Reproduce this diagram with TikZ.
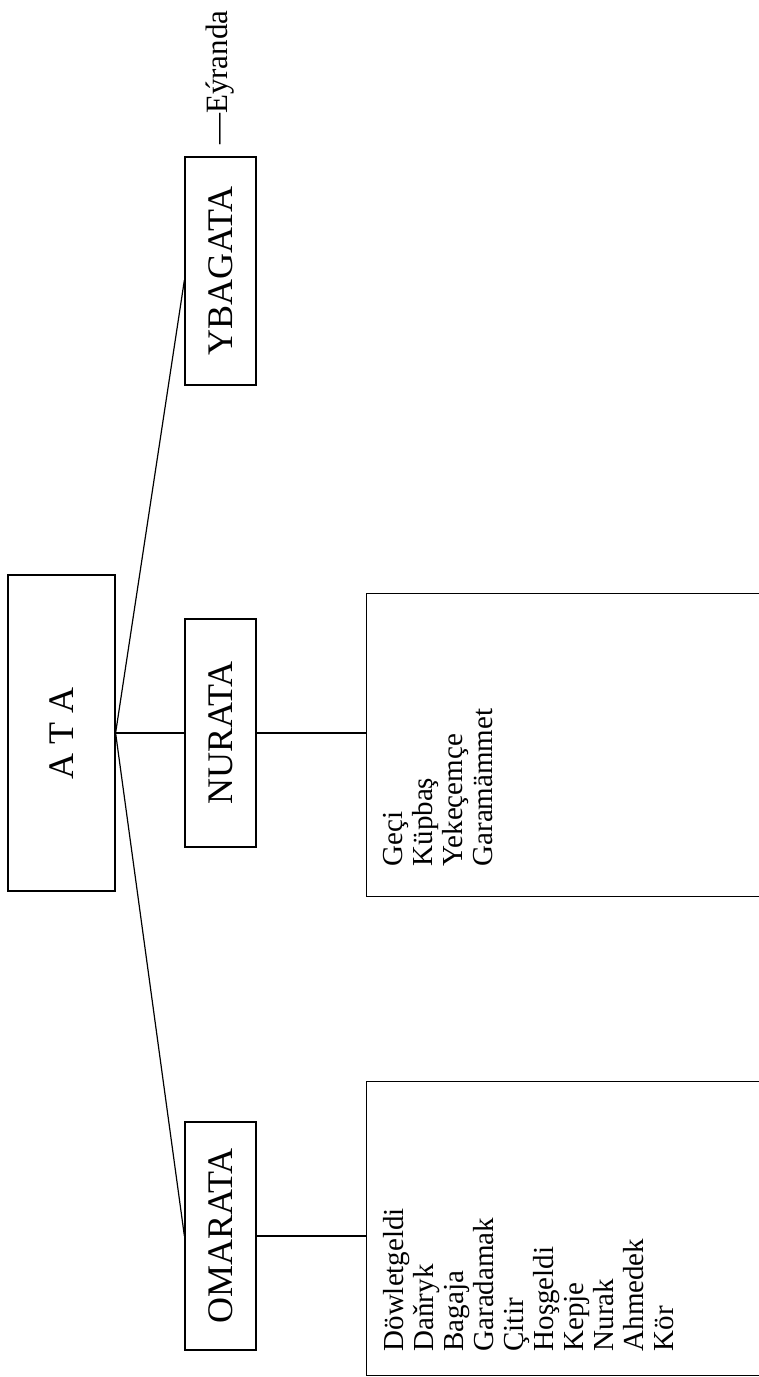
\documentclass[tikz,border=0pt]{standalone}
\usepackage{fontspec}
\setmainfont{Liberation Serif}

\begin{document}
\begin{tikzpicture}[x=0.5pt,y=0.5pt,line width=0.6pt,
    kin/.style={draw, rotate=90, inner sep=0pt, minimum height=35.5pt, minimum width=114pt, font=\fontsize{18}{20}\selectfont},
    namelist/.style={rotate=90, anchor=north west, inner sep=0pt, align=left, font=\fontsize{14.5}{15}\selectfont},
    listbox/.style={draw, anchor=north west, inner sep=0pt, minimum width=217pt}]
      \clip (0,0) rectangle (759,-1377);
      \node[kin, minimum width=158pt, minimum height=53.5pt] (ata) at (61.5,-733) {A T A};
      \node[kin] (ybagata) at (220.5,-271) {YBAGATA};
      \node[kin] (nurata) at (220.5,-733) {NURATA};
      \node[kin] (omarata) at (220.5,-1236) {OMARATA};
      \node[rotate=90, anchor=west, inner sep=0pt, font=\fontsize{15.5}{16}\selectfont] (eyranda) at ([yshift=5.5pt]ybagata.east) {—Eýranda};
      \node[listbox, minimum height=151.5pt] (nlist) at (366,-593) {};
      \node[listbox, minimum height=147pt] (olist) at (366,-1081) {};
      \node[namelist] (nnames) at (383,-867) {Geçi\\Küpbaş\\Yekeçemçe\\Garamämmet};
      \node[namelist] (onames) at (383,-1352) {Döwletgeldi\\Daňryk\\Bagaja\\Garadamak\\Çitir\\Hoşgeldi\\Kepje\\Nurak\\Ahmedek\\Kör};
      \draw (ata.south) -- ([yshift=-4.5pt]ybagata.north);
      \draw (ata.south) -- (nurata.north);
      \draw (ata.south) -- (omarata.north);
      \draw (nurata.south) -- (nurata.south -| nlist.west);
      \draw (omarata.south) -- (omarata.south -| olist.west);
\end{tikzpicture}
\end{document}
